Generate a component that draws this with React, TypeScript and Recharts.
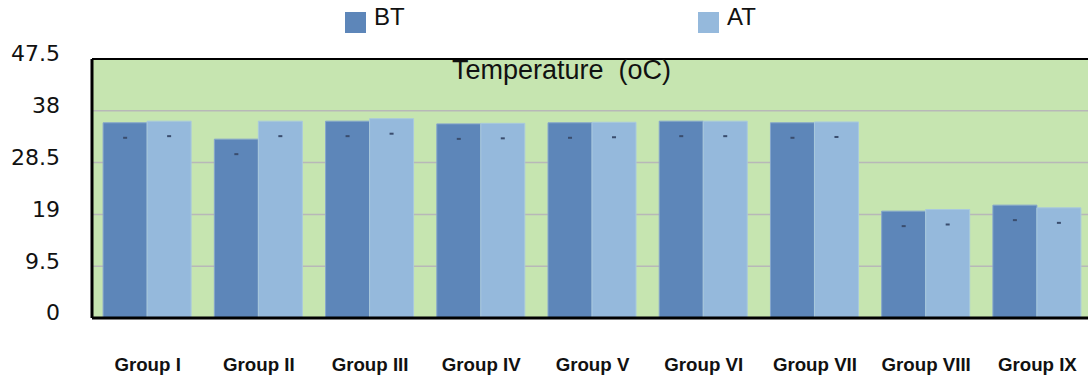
import React from "react";
import { BarChart, Bar, XAxis, YAxis, CartesianGrid, ReferenceLine, LabelList } from "recharts";

const categories = ["Group I", "Group II", "Group III", "Group IV", "Group V", "Group VI", "Group VII", "Group VIII", "Group IX"];
const btValues = [35.8, 32.8, 36.1, 35.6, 35.8, 36.1, 35.8, 19.6, 20.7];
const atValues = [36.1, 36.1, 36.55, 35.7, 35.9, 36.1, 35.95, 19.9, 20.2];
const yTicks = [0, 9.5, 19, 28.5, 38, 47.5];
const seriesNames = ["BT", "AT"];
const titleText = "Temperature  (oC)";

const data = categories.map((c, i) => ({ name: c, BT: btValues[i], AT: atValues[i] }));

const BT_COLOR = "#5D86B9";
const AT_COLOR = "#95B9DC";
const COLORS = [BT_COLOR, AT_COLOR];

const YTick = (props: any) => {
  const { x, y, payload } = props;
  return (
    <text x={x} y={y - 5.5} dy="0.36em" textAnchor="end" fontFamily="DejaVu Sans" fontSize={22} fill="#111">
      {payload.value}
    </text>
  );
};

const XTick = (props: any) => {
  const { x, y, payload } = props;
  return (
    <text x={x} y={y + 51} textAnchor="middle" fontFamily="Liberation Sans" fontWeight="bold" fontSize={18.7} fill="#111">
      {payload.value}
    </text>
  );
};

const Mark = (props: any) => {
  const { x, y, width } = props;
  return <rect x={x + width / 2 - 2} y={y + 14} width={4} height={2} fill="#3A4D6E" />;
};

const LegendOverlay = () => (
  <div style={{ position: "absolute", left: 0, top: 0, width: 1088, height: 40, pointerEvents: "none" }}>
    {seriesNames.map((n, i) => (
      <div key={n} style={{ position: "absolute", left: i === 0 ? 345 : 698, top: 0, display: "flex" }}>
        <div style={{ width: 21, height: 21, marginTop: 12, background: COLORS[i] }} />
        <div style={{ marginLeft: 8, marginTop: 3, fontFamily: "Liberation Sans", fontSize: 24, color: "#111", lineHeight: "28px" }}>{n}</div>
      </div>
    ))}
  </div>
);

export default function App() {
  return (
    <div style={{ position: "fixed", left: 0, top: 0, width: 1088, height: 378, overflow: "hidden", background: "#fff" }}>
      <BarChart width={1100} height={378} data={data} margin={{ top: 59, right: 7, bottom: 0, left: 0 }} barCategoryGap="10%" barGap={0}>
        <CartesianGrid vertical={false} stroke="#B8B8B8" strokeWidth={1.5} fill="#C6E5B0" />
        <XAxis dataKey="name" axisLine={{ stroke: "#000", strokeWidth: 3 }} tickLine={false} tickSize={0} tick={<XTick />} interval={0} height={60} />
        <YAxis domain={[0, 47.5]} ticks={yTicks} axisLine={{ stroke: "#000", strokeWidth: 3 }} tickLine={false} tickSize={0} tickMargin={32} tick={<YTick />} width={92} />
        <ReferenceLine y={47.5} stroke="#000" strokeWidth={2} />
        <Bar dataKey="BT" fill={BT_COLOR} stroke="#86A6CC" strokeWidth={1} isAnimationActive={false}>
          <LabelList dataKey="BT" content={<Mark />} />
        </Bar>
        <Bar dataKey="AT" fill={AT_COLOR} stroke="#A9C9DD" strokeWidth={1} isAnimationActive={false}>
          <LabelList dataKey="AT" content={<Mark />} />
        </Bar>
      </BarChart>
      <LegendOverlay />
      <svg width={1088} height={378} style={{ position: "absolute", left: 0, top: 0, pointerEvents: "none" }}>
        <text x={561.5} y={79} textAnchor="middle" fontFamily="Liberation Sans" fontSize={27} fill="#111" style={{ whiteSpace: "pre" }}>
          {titleText}
        </text>
      </svg>
    </div>
  );
}
